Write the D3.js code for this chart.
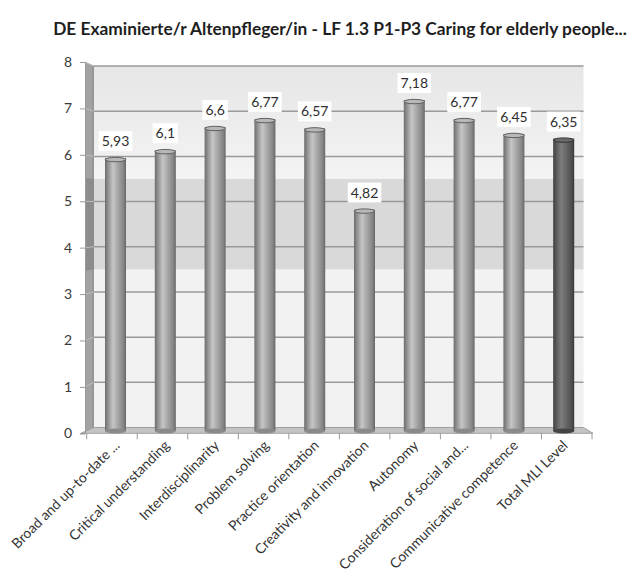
<!DOCTYPE html>
<html>
<head>
<meta charset="utf-8">
<script src="https://cdn.jsdelivr.net/npm/d3@7/dist/d3.min.js"></script>
<style>
  html, body { margin: 0; padding: 0; background: #fff; }
  svg { display: block; }
  text { font-family: Lato, "Open Sans", sans-serif; }
</style>
</head>
<body>
<svg id="chart" width="641" height="584"></svg>
<script>
// Competence scores per dimension (scale 0–8)
const titleText = "DE Examinierte/r Altenpfleger/in - LF 1.3 P1-P3 Caring for elderly people...";
const categories = [
  "Broad and up-to-date ...",
  "Critical understanding",
  "Interdisciplinarity",
  "Problem solving",
  "Practice orientation",
  "Creativity and innovation",
  "Autonomy",
  "Consideration of social and...",
  "Communicative competence",
  "Total MLI Level"
];
const values = [5.93, 6.1, 6.6, 6.77, 6.57, 4.82, 7.18, 6.77, 6.45, 6.35];
const valueLabels = ["5,93", "6,1", "6,6", "6,77", "6,57", "4,82", "7,18", "6,77", "6,45", "6,35"];
const yTicks = [0, 1, 2, 3, 4, 5, 6, 7, 8];
const band = [3.5, 5.5];          // shaded range on the back wall
const totalCategory = "Total MLI Level";

const svg = d3.select("#chart");
const defs = svg.append("defs");

// Pseudo-3D geometry: front plane (axis) and back wall
const yFront = d3.scaleLinear().domain([0, 8]).range([433.3, 62]);
const yBack  = d3.scaleLinear().domain([0, 8]).range([427.5, 66]);
const xFront = d3.scaleBand().domain(categories).range([86.7, 592]).padding(0);
const xBar   = d3.scalePoint().domain(categories).range([115.5, 563.7]);
const wallL = 94, wallR = 583.5, axisX = 85;
const barW = 21;

// Gradients
function hGrad(id, stops) {
  const g = defs.append("linearGradient").attr("id", id)
    .attr("x1", "0%").attr("x2", "100%").attr("y1", "0%").attr("y2", "0%");
  stops.forEach(([o, c]) => g.append("stop").attr("offset", o).attr("stop-color", c));
}
hGrad("barGrad", [[0, "#6c6c6c"], [0.12, "#8a8a8a"], [0.38, "#c6c6c6"], [0.62, "#a6a6a6"], [0.88, "#858585"], [1, "#656565"]]);
hGrad("barGradDark", [[0, "#3c3c3c"], [0.12, "#555"], [0.38, "#7e7e7e"], [0.62, "#676767"], [0.88, "#4e4e4e"], [1, "#383838"]]);
const wg = defs.append("linearGradient").attr("id", "wallGrad")
  .attr("x1", "0").attr("x2", "0").attr("y1", "0").attr("y2", "1");
[[0, "#e6e6e6"], [0.3, "#f3f3f3"], [1, "#f1f1f1"]].forEach(([o, c]) =>
  wg.append("stop").attr("offset", o).attr("stop-color", c));

// Back wall
svg.append("rect")
  .attr("x", wallL).attr("y", yBack(8))
  .attr("width", wallR - wallL).attr("height", yBack(0) - yBack(8))
  .attr("fill", "url(#wallGrad)");
svg.append("rect")
  .attr("x", wallL).attr("y", yBack(band[1]))
  .attr("width", wallR - wallL).attr("height", yBack(band[0]) - yBack(band[1]))
  .attr("fill", "#d9d9d9");

// Left side wall
const sideWall = (v0, v1) => [
  [axisX, yFront(v1)], [wallL, yBack(v1)], [wallL, yBack(v0)], [axisX, yFront(v0)]
];
svg.append("polygon").attr("points", sideWall(0, 8).join(" ")).attr("fill", "#a2a2a2");
svg.append("polygon").attr("points", sideWall(band[0], band[1]).join(" ")).attr("fill", "#8c8c8c");
svg.append("line").attr("x1", wallL - 1).attr("x2", wallL - 1)
  .attr("y1", yBack(8)).attr("y2", yBack(0)).attr("stroke", "#8a8a8a").attr("stroke-width", 1);

// Gridlines on the back wall and across the side wall
const grid = svg.append("g");
grid.selectAll("line.g").data(yTicks.filter(d => d > 0)).join("line")
  .attr("class", "g")
  .attr("x1", wallL).attr("x2", wallR)
  .attr("y1", d => yBack(d)).attr("y2", d => yBack(d))
  .attr("stroke", "#9a9a9a").attr("stroke-width", 1.5);
grid.selectAll("line.s").data(yTicks.filter(d => d > 0)).join("line")
  .attr("class", "s")
  .attr("x1", axisX).attr("x2", wallL)
  .attr("y1", d => yFront(d)).attr("y2", d => yBack(d))
  .attr("stroke", "#bdbdbd").attr("stroke-width", 1);

// Floor
const floorPts = [[wallL, yBack(0)], [wallR, yBack(0)], [xFront.range()[1] + 1, yFront(0)], [81, yFront(0)]];
svg.append("polygon").attr("points", floorPts.join(" "))
  .attr("fill", "#c4c4c4").attr("stroke", "#a0a0a0").attr("stroke-width", 1);

// Y axis (front plane)
const yAxis = d3.axisLeft(yFront).tickValues(yTicks).tickSize(5).tickPadding(8).tickFormat(d3.format("d"));
const yg = svg.append("g").attr("transform", `translate(${axisX},0)`).call(yAxis);
yg.select(".domain").attr("stroke", "#9a9a9a");
yg.selectAll(".tick line").attr("stroke", "#9a9a9a");
yg.selectAll(".tick text").attr("fill", "#3a3a3a").style("font-size", "14px").style("font-family", "Lato, sans-serif");

// Category tick marks along the front floor edge
const bounds = categories.map(c => xFront(c)).concat([xFront.range()[1]]);
svg.append("g").selectAll("line").data(bounds).join("line")
  .attr("x1", d => d).attr("x2", d => d)
  .attr("y1", yFront(0)).attr("y2", yFront(0) + 6)
  .attr("stroke", "#9a9a9a").attr("stroke-width", 1);

// Cylindrical bars
const barBase = 431;
const bars = svg.append("g");
const rows = categories.map((c, i) => ({ c, v: values[i], lab: valueLabels[i] }));
const gBar = bars.selectAll("g").data(rows).join("g");
gBar.append("rect")
  .attr("x", d => xBar(d.c) - barW / 2).attr("width", barW)
  .attr("y", d => yFront(d.v)).attr("height", d => barBase - yFront(d.v))
  .attr("fill", d => d.c === totalCategory ? "url(#barGradDark)" : "url(#barGrad)");
gBar.append("ellipse")
  .attr("cx", d => xBar(d.c)).attr("cy", barBase).attr("rx", barW / 2).attr("ry", 2.5)
  .attr("fill", d => d.c === totalCategory ? "#444" : "#8a8a8a");
gBar.append("ellipse")
  .attr("cx", d => xBar(d.c)).attr("cy", d => yFront(d.v) + 1.5).attr("rx", barW / 2 - 0.3).attr("ry", 2.2)
  .attr("fill", d => d.c === totalCategory ? "#6a6a6a" : "#b8b8b8")
  .attr("stroke", d => d.c === totalCategory ? "#333" : "#5e5e5e").attr("stroke-width", 1);

// Value labels in white boxes
const labG = svg.append("g").selectAll("g").data(rows).join("g")
  .attr("transform", d => `translate(${xBar(d.c)},${yFront(d.v) - 17})`);
labG.append("text")
  .attr("text-anchor", "middle").attr("dy", "0.36em")
  .attr("fill", "#2e2e2e").style("font-size", "14px")
  .text(d => d.lab);
labG.each(function () {
  const t = d3.select(this).select("text").node();
  const w = t.getComputedTextLength();
  d3.select(this).insert("rect", "text")
    .attr("x", -w / 2 - 3).attr("y", -10).attr("width", w + 6).attr("height", 20)
    .attr("fill", "#fff");
});

// Rotated category labels
svg.append("g").selectAll("text").data(categories).join("text")
  .attr("transform", c => `translate(${xBar(c) + 5},${yFront(0) + 13}) rotate(-45)`)
  .attr("text-anchor", "end")
  .attr("fill", "#333").style("font-size", "14px")
  .text(c => c);

// Title, fitted to its width
const title = svg.append("text")
  .attr("x", 340).attr("y", 35).attr("text-anchor", "middle")
  .attr("fill", "#1e1e1e").style("font-weight", "bold").style("font-size", "17px")
  .text(titleText);
const tw = title.node().getComputedTextLength();
title.style("font-size", (17 * 574 / tw).toFixed(2) + "px");
</script>
</body>
</html>
